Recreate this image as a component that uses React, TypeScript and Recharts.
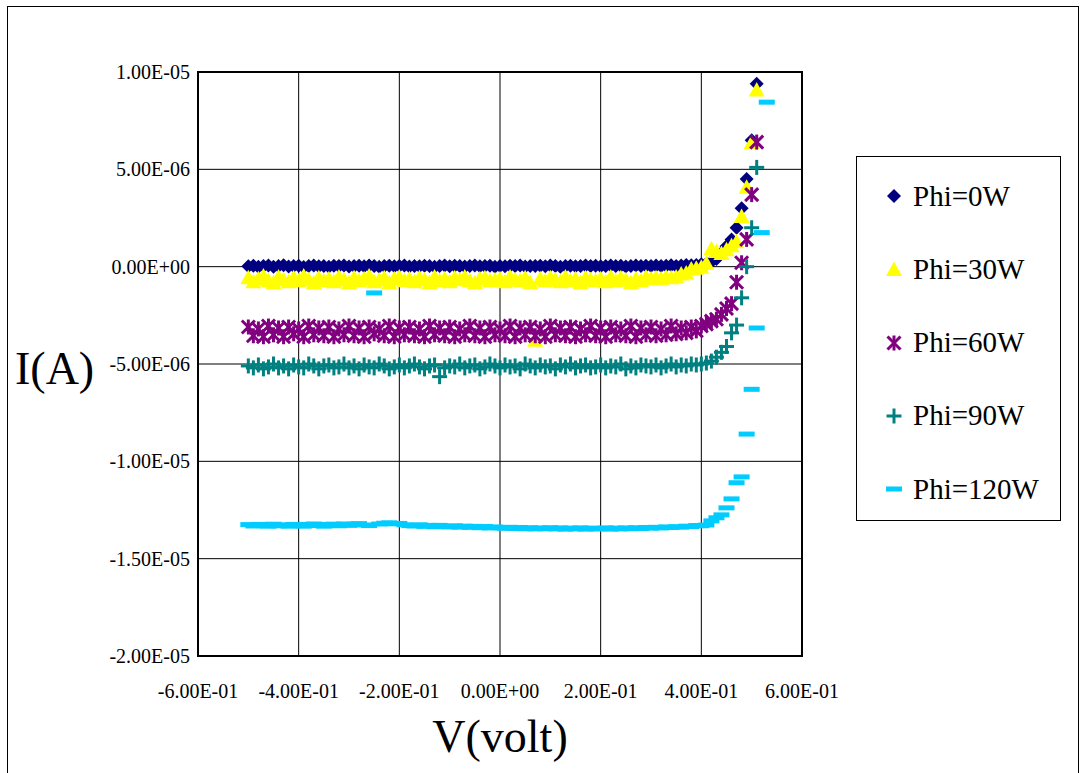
import {
  CartesianGrid,
  Legend,
  ReferenceArea,
  Scatter,
  ScatterChart,
  XAxis,
  YAxis,
} from "recharts";

// bias voltage (V), same grid for every curve
const VOLTS = [
  -0.5, -0.49, -0.48, -0.47, -0.46, -0.45, -0.44, -0.43, -0.42, -0.41,
  -0.4, -0.39, -0.38, -0.37, -0.36, -0.35, -0.34, -0.33, -0.32, -0.31,
  -0.3, -0.29, -0.28, -0.27, -0.26, -0.25, -0.24, -0.23, -0.22, -0.21,
  -0.2, -0.19, -0.18, -0.17, -0.16, -0.15, -0.14, -0.13, -0.12, -0.11,
  -0.1, -0.09, -0.08, -0.07, -0.06, -0.05, -0.04, -0.03, -0.02, -0.01,
  0, 0.01, 0.02, 0.03, 0.04, 0.05, 0.06, 0.07, 0.08, 0.09,
  0.1, 0.11, 0.12, 0.13, 0.14, 0.15, 0.16, 0.17, 0.18, 0.19,
  0.2, 0.21, 0.22, 0.23, 0.24, 0.25, 0.26, 0.27, 0.28, 0.29,
  0.3, 0.31, 0.32, 0.33, 0.34, 0.35, 0.36, 0.37, 0.38, 0.39,
  0.4, 0.41, 0.42, 0.43, 0.44, 0.45, 0.46, 0.47, 0.48, 0.49,
  0.5, 0.51, 0.52, 0.53,
];

// currents in µA (axis labels are in A)
const PHI_0 = [
  0.02, 0.05, -0.01, 0.04, 0.06, 0.0, 0.03, 0.07, 0.01, 0.04,
  0.05, -0.02, 0.03, 0.06, 0.02, 0.04, 0.0, 0.05, 0.03, 0.06,
  0.01, 0.04, 0.05, 0.02, 0.06, 0.03, 0.0, 0.04, 0.05, 0.02,
  0.03, 0.06, 0.01, 0.04, 0.02, 0.05, 0.03, 0.0, 0.04, 0.06,
  0.02, 0.05, 0.03, 0.01, 0.04, 0.06, 0.02, 0.03, 0.05, 0.0,
  0.04, 0.02, 0.05, 0.03, 0.06, 0.01, 0.04, 0.03, 0.05, 0.02,
  0.06, 0.03, 0.0, 0.04, 0.05, 0.02, 0.04, 0.06, 0.03, 0.05,
  0.02, 0.04, 0.06, 0.03, 0.05, 0.01, 0.04, 0.06, 0.03, 0.05,
  0.04, 0.06, 0.03, 0.05, 0.07, 0.04, 0.06, 0.08, 0.07, 0.09,
  0.12, 0.16, 0.25, 0.4, 0.7, 1.05, 1.4, 2.0, 3.0, 4.5,
  6.5, 9.4, null, null,
];

const PHI_30 = [
  -0.55, -0.75, -0.6, -0.45, -0.7, -0.8, -0.5, -0.65, -0.75, -0.55,
  -0.7, -0.45, -0.65, -0.8, -0.55, -0.7, -0.6, -0.75, -0.5, -0.65,
  -0.8, -0.55, -0.7, -0.6, -0.45, -0.75, -0.65, -0.55, -0.8, -0.6,
  -0.5, -0.7, -0.6, -0.75, -0.55, -0.65, -0.8, -0.5, -0.7, -0.6,
  -0.75, -0.55, -0.65, -0.5, -0.7, -0.8, -0.6, -0.55, -0.7, -0.65,
  -0.6, -0.75, -0.5, -0.65, -0.7, -0.55, -0.8, -3.75, -0.6, -0.7,
  -0.55, -0.65, -0.75, -0.5, -0.7, -0.6, -0.8, -0.55, -0.65, -0.7,
  -0.6, -0.75, -0.5, -0.7, -0.55, -0.65, -0.8, -0.6, -0.7, -0.5,
  -0.6, -0.55, -0.6, -0.5, -0.55, -0.5, -0.35, -0.3, -0.1, -0.05,
  0.0, 0.2, 0.95, 0.8, 0.7, 0.9, 1.1, 1.3, 2.6, 4.1,
  6.4, 9.1, null, null,
];

const PHI_60 = [
  -3.1, -3.55, -3.2, -3.6, -3.05, -3.5, -3.15, -3.6, -3.1, -3.45,
  -3.2, -3.6, -3.05, -3.5, -3.15, -3.55, -3.1, -3.6, -3.2, -3.5,
  -3.05, -3.55, -3.15, -3.6, -3.1, -3.45, -3.2, -3.55, -3.05, -3.6,
  -3.15, -3.5, -3.1, -3.55, -3.2, -3.6, -3.05, -3.5, -3.15, -3.55,
  -3.1, -3.6, -3.2, -3.5, -3.05, -3.55, -3.15, -3.6, -3.1, -3.5,
  -3.2, -3.55, -3.05, -3.6, -3.15, -3.5, -3.1, -3.55, -3.2, -3.6,
  -3.05, -3.5, -3.15, -3.55, -3.1, -3.6, -3.2, -3.5, -3.05, -3.55,
  -3.15, -3.6, -3.1, -3.5, -3.2, -3.55, -3.05, -3.6, -3.15, -3.5,
  -3.1, -3.55, -3.2, -3.5, -3.05, -3.45, -3.15, -3.4, -3.1, -3.3,
  -3.05, -2.95, -2.8, -2.7, -2.45, -2.15, -1.9, -0.8, 0.2, 1.4,
  3.7, 6.4, null, null,
];

const PHI_90 = [
  -5.1, -5.2, -5.05, -5.25, -5.15, -5.0, -5.2, -5.1, -5.25, -5.05,
  -5.15, -5.2, -5.0, -5.1, -5.25, -5.1, -5.05, -5.2, -5.15, -5.0,
  -5.2, -5.1, -5.25, -5.05, -5.15, -5.2, -5.0, -5.1, -5.25, -5.15,
  -5.05, -5.2, -5.1, -5.0, -5.15, -5.25, -5.1, -5.05, -5.65, -5.2,
  -5.1, -5.15, -5.0, -5.2, -5.1, -5.05, -5.25, -5.15, -5.0, -5.1,
  -5.2, -5.05, -5.15, -5.1, -5.25, -5.0, -5.1, -5.2, -5.05, -5.15,
  -5.1, -5.25, -5.05, -5.15, -5.0, -5.2, -5.1, -5.05, -5.2, -5.15,
  -5.05, -5.2, -5.1, -5.15, -5.0, -5.25, -5.1, -5.2, -5.05, -5.1,
  -5.15, -5.05, -5.2, -5.1, -5.0, -5.15, -5.05, -5.1, -5.0, -5.05,
  -5.0, -4.95, -4.85, -4.65, -4.4, -4.1, -3.4, -3.0, -1.6, 0.0,
  2.0, 5.1, null, null,
];

const PHI_120 = [
  -13.25, -13.32, -13.24, -13.3, -13.33, -13.23, -13.31, -13.26, -13.33, -13.24,
  -13.3, -13.33, -13.24, -13.22, -13.3, -13.33, -13.24, -13.23, -13.31, -13.22,
  -13.29, -13.23, -13.2, -13.27, -13.3, -1.35, -13.22, -13.18, -13.16, -13.21,
  -13.19, -13.26, -13.3, -13.32, -13.26, -13.34, -13.29, -13.36, -13.29, -13.35,
  -13.37, -13.31, -13.38, -13.33, -13.39, -13.34, -13.41, -13.35, -13.42, -13.37,
  -13.41, -13.44, -13.39, -13.45, -13.4, -13.46, -13.41, -13.47, -13.42, -13.46,
  -13.41, -13.47, -13.42, -13.48, -13.43, -13.47, -13.42, -13.48, -13.43, -13.47,
  -13.46, -13.42, -13.48, -13.43, -13.47, -13.42, -13.46, -13.41, -13.45, -13.4,
  -13.43, -13.39, -13.42, -13.37, -13.4, -13.36, -13.38, -13.33, -13.35, -13.3,
  -13.31, -13.27, -13.06, -12.9, -12.75, -12.39, -11.93, -11.1, -10.8, -8.6,
  -6.3, -3.15, 1.75, 8.45,
];

const X_TICKS = [-0.6, -0.4, -0.2, 0, 0.2, 0.4, 0.6];
const X_TICK_LABELS = [
  "-6.00E-01", "-4.00E-01", "-2.00E-01", "0.00E+00", "2.00E-01", "4.00E-01", "6.00E-01",
];
const Y_TICKS = [-20, -15, -10, -5, 0, 5, 10];
const Y_TICK_LABELS = [
  "-2.00E-05", "-1.50E-05", "-1.00E-05", "-5.00E-06", "0.00E+00", "5.00E-06", "1.00E-05",
];

const SERIES = [
  { name: "Phi=0W", values: PHI_0, color: "#000080", marker: "diamond" },
  { name: "Phi=30W", values: PHI_30, color: "#ffff00", marker: "triangle" },
  { name: "Phi=60W", values: PHI_60, color: "#800080", marker: "star" },
  { name: "Phi=90W", values: PHI_90, color: "#008080", marker: "plus" },
  { name: "Phi=120W", values: PHI_120, color: "#00ccff", marker: "dash" },
];

const FONT = "'Liberation Serif', 'DejaVu Serif', serif";

function toPoints(values: (number | null)[]) {
  return VOLTS.map((v, k) => ({ v, i: values[k] })).filter((p) => p.i !== null);
}

function Marker({ kind, cx, cy, color }: { kind: string; cx: number; cy: number; color: string }) {
  if (kind === "diamond") {
    return (
      <polygon
        points={`${cx},${cy - 7} ${cx + 7},${cy} ${cx},${cy + 7} ${cx - 7},${cy}`}
        fill={color}
      />
    );
  }
  if (kind === "triangle") {
    return (
      <polygon
        points={`${cx},${cy - 7.5} ${cx + 8},${cy + 7} ${cx - 8},${cy + 7}`}
        fill={color}
      />
    );
  }
  if (kind === "star") {
    return (
      <g stroke={color} strokeWidth={3}>
        <line x1={cx - 6.5} y1={cy - 6.5} x2={cx + 6.5} y2={cy + 6.5} />
        <line x1={cx - 6.5} y1={cy + 6.5} x2={cx + 6.5} y2={cy - 6.5} />
        <line x1={cx} y1={cy - 7.5} x2={cx} y2={cy + 7.5} />
      </g>
    );
  }
  if (kind === "plus") {
    return (
      <g stroke={color} strokeWidth={3}>
        <line x1={cx - 7.5} y1={cy} x2={cx + 7.5} y2={cy} />
        <line x1={cx} y1={cy - 7.5} x2={cx} y2={cy + 7.5} />
      </g>
    );
  }
  return <rect x={cx - 8} y={cy - 2.5} width={16} height={5} fill={color} />;
}

function XTick({ x, y, payload }: any) {
  return (
    <text x={x} y={y + 34} textAnchor="middle" fontFamily={FONT} fontSize={20} fill="#000">
      {X_TICK_LABELS[X_TICKS.indexOf(payload.value)]}
    </text>
  );
}

function YTick({ x, y, payload }: any) {
  return (
    <text x={x} y={y + 7} textAnchor="end" fontFamily={FONT} fontSize={20} fill="#000">
      {Y_TICK_LABELS[Y_TICKS.indexOf(payload.value)]}
    </text>
  );
}

function LegendBox() {
  return (
    <div
      style={{
        position: "relative",
        width: 205,
        height: 365,
        boxSizing: "border-box",
        border: "1px solid #000",
        background: "#fff",
        fontFamily: FONT,
      }}
    >
      {SERIES.map((s, k) => (
        <div
          key={s.name}
          style={{
            position: "absolute",
            left: 0,
            top: 19 + k * 73.3,
            height: 40,
            display: "flex",
            alignItems: "center",
          }}
        >
          <svg width={20} height={20} style={{ marginLeft: 27 }}>
            <Marker kind={s.marker} cx={10} cy={10} color={s.color} />
          </svg>
          <span style={{ marginLeft: 9, fontSize: 29, color: "#000", whiteSpace: "nowrap" }}>
            {s.name}
          </span>
        </div>
      ))}
    </div>
  );
}

export default function App() {
  return (
    <div
      style={{
        position: "absolute",
        left: 0,
        top: 0,
        width: 1082,
        height: 773,
        overflow: "hidden",
        background: "#fff",
        fontFamily: FONT,
      }}
    >
      <div
        style={{
          position: "absolute",
          left: 7,
          top: 6,
          width: 1070,
          height: 800,
          border: "1px solid #000",
        }}
      />
      <ScatterChart
        width={1082}
        height={773}
        margin={{ top: 72, right: 280, bottom: 0, left: 0 }}
        style={{ fontFamily: FONT }}
      >
        <CartesianGrid stroke="#000" strokeWidth={1} />
        <XAxis
          type="number"
          dataKey="v"
          domain={[-0.6, 0.6]}
          ticks={X_TICKS}
          interval={0}
          height={117}
          axisLine={false}
          tickLine={false}
          tick={<XTick />}
          label={{
            value: "V(volt)",
            position: "insideBottom",
            offset: 21,
            fill: "#000",
            fontSize: 46,
            fontFamily: FONT,
          }}
        />
        <YAxis
          type="number"
          dataKey="i"
          domain={[-20, 10]}
          ticks={Y_TICKS}
          interval={0}
          width={198}
          axisLine={false}
          tickLine={false}
          tick={<YTick />}
          label={{
            value: "I(A)",
            position: "insideLeft",
            offset: 15,
            dy: 4,
            fill: "#000",
            fontSize: 46,
            fontFamily: FONT,
          }}
        />
        <ReferenceArea
          x1={-0.6}
          x2={0.6}
          y1={-20}
          y2={10}
          fill="none"
          fillOpacity={0}
          stroke="#000"
          strokeWidth={2}
          strokeOpacity={1}
        />
        {SERIES.map((s) => (
          <Scatter
            key={s.name}
            name={s.name}
            data={toPoints(s.values)}
            fill={s.color}
            isAnimationActive={false}
            shape={(p: any) => <Marker kind={s.marker} cx={p.cx} cy={p.cy} color={s.color} />}
          />
        ))}
        <Legend
          layout="vertical"
          align="center"
          verticalAlign="middle"
          wrapperStyle={{ left: 856, top: 156, width: 205, height: 365 }}
          content={() => <LegendBox />}
        />
      </ScatterChart>
    </div>
  );
}
